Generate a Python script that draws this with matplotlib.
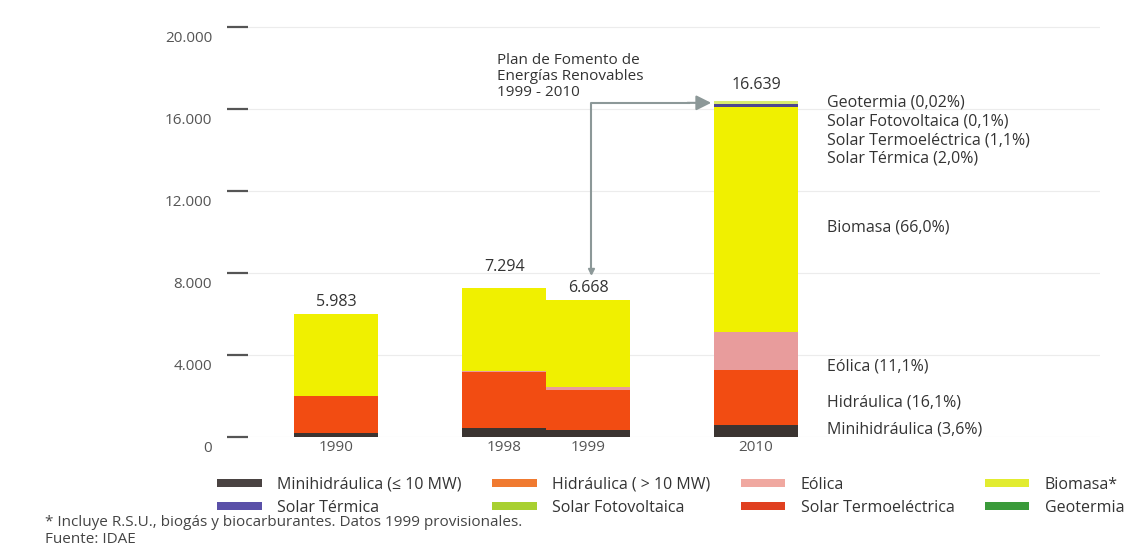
import numpy as np
import matplotlib.pyplot as plt
from matplotlib.transforms import ScaledTranslation
from matplotlib.patches import Patch

plt.rcParams['font.family'] = ['Open Sans', 'DejaVu Sans']

# datos (ktep)
years = ['1990', '1998', '1999', '2010']
xpos = [0, 2, 3, 5]
totals = [5983, 7294, 6668, 16639]

minihidraulica = [180, 450, 350, 599]
hidraulica = [1820, 2720, 1950, 2679]
eolica = [0, 60, 150, 1847]
biomasa = [3983, 4064, 4218, 10982]
solar_termica = [0, 0, 0, 160]
solar_fv = [0, 0, 0, 120]
solar_termoelec = [0, 0, 0, 0]
geotermia = [0, 0, 0, 0]

series = [
    ('Minihidráulica (≤ 10 MW)', minihidraulica, '#3b3431', '#4a4342'),
    ('Hidráulica ( > 10 MW)', hidraulica, '#f24c12', '#f07a30'),
    ('Eólica', eolica, '#e89c9c', '#f0a8a0'),
    ('Biomasa*', biomasa, '#f0f000', '#e2ec30'),
    ('Solar Térmica', solar_termica, '#4e4490', '#5a50a8'),
    ('Solar Fotovoltaica', solar_fv, '#d8ea70', '#a8d030'),
    ('Solar Termoeléctrica', solar_termoelec, '#e03414', '#e04020'),
    ('Geotermia', geotermia, '#2e8e34', '#3a9a3a'),
]

labels_2010 = ['Minihidráulica (3,6%)', 'Hidráulica (16,1%)', 'Eólica (11,1%)',
               'Biomasa (66,0%)', 'Solar Térmica (2,0%)', 'Solar Termoeléctrica (1,1%)',
               'Solar Fotovoltaica (0,1%)', 'Geotermia (0,02%)']
labels_2010_y = [390, 1660, 3460, 10240, 13610, 14490, 15415, 16340]
label_pad = [3, 9, 3, 6]  # pt sobre la barra

fig = plt.figure(figsize=(11.28, 5.56), dpi=100)
ax = fig.add_axes([0.22, 0.214, 0.755, 0.774])

bottom = np.zeros(len(years))
for name, vals, c, lc in series:
    ax.bar(xpos, vals, width=1.0, bottom=bottom, color=c, linewidth=0)
    bottom += np.array(vals)

for x, top, t, p in zip(xpos, bottom, totals, label_pad):
    ax.annotate(f'{t:,}'.replace(',', '.'), (x, top), xytext=(0, p),
                textcoords='offset points', ha='center', va='bottom',
                fontsize=11.5, color='#333333')

for lab, y in zip(labels_2010, labels_2010_y):
    ax.text(5.85, y, lab, ha='left', va='center', fontsize=11.5, color='#333333')

# flecha del plan de fomento
gris = '#8c9898'
y_arr = bottom[3] - 80
ax.plot([3.03, 3.03, 4.2], [8000, y_arr, y_arr], color=gris, lw=1.5)
ax.plot([3.03], [8100], marker='v', color=gris, ms=4)
ax.annotate('', xy=(4.5, y_arr), xytext=(4.15, y_arr),
            arrowprops=dict(arrowstyle='-|>,head_length=0.9,head_width=0.45',
                            color=gris, lw=1.5))
ax.text(1.92, 18750, 'Plan de Fomento de\nEnergías Renovables\n1999 - 2010',
        ha='left', va='top', fontsize=11, color='#333333', linespacing=1.1)

ax.set_xlim(-1.048, 9.095)
ax.set_ylim(0, 21000)
ax.set_xticks(xpos)
ax.set_xticklabels(years, fontsize=11, color='#555555')
ax.tick_params(axis='x', length=0, pad=2)
yt = [0, 4000, 8000, 12000, 16000, 20000]
ax.set_yticks(yt)
ax.set_yticklabels([f'{v:,}'.replace(',', '.') for v in yt], fontsize=11, color='#555555')
ax.tick_params(axis='y', length=15, width=1.6, color='#555555', pad=11)
for lab in ax.get_yticklabels():
    lab.set_transform(lab.get_transform() + ScaledTranslation(0, -0.09, fig.dpi_scale_trans))
for s in ax.spines.values():
    s.set_visible(False)
ax.yaxis.grid(True, color='#ececec', lw=0.8)
ax.set_axisbelow(True)

# leyenda
order = [0, 4, 1, 5, 2, 6, 3, 7]
handles = [Patch(facecolor=series[i][3], label=series[i][0]) for i in order]
fig.legend(handles=handles, ncol=4, loc='upper left', bbox_to_anchor=(0.18, 0.168),
           frameon=False, fontsize=11.5, handlelength=2.8, handleheight=0.4,
           handletextpad=0.95, columnspacing=1.9, labelspacing=0.45,
           labelcolor='#333333')

fig.text(0.04, 0.061, '* Incluye R.S.U., biogás y biocarburantes. Datos 1999 provisionales.',
         fontsize=11, color='#444444', va='center')
fig.text(0.04, 0.029, 'Fuente: IDAE', fontsize=11, color='#444444', va='center')

fig.savefig('out.png', dpi=100)
